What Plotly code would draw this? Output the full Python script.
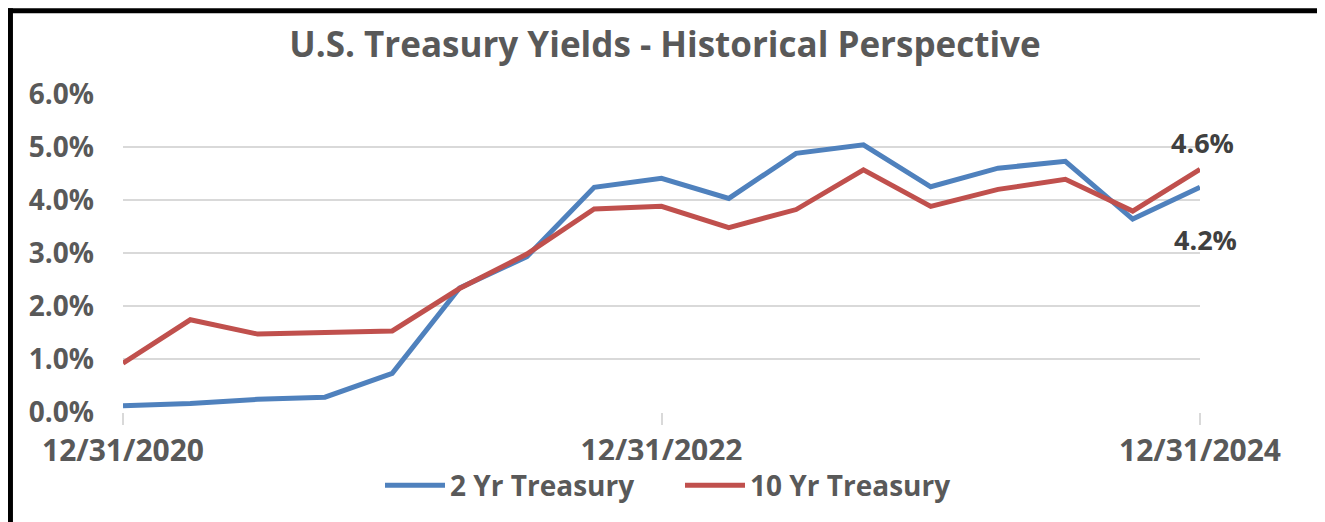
import plotly.graph_objects as go

dates = ["12/31/2020", "3/31/2021", "6/30/2021", "9/30/2021", "12/31/2021",
         "3/31/2022", "6/30/2022", "9/30/2022", "12/31/2022", "3/31/2023",
         "6/30/2023", "9/30/2023", "12/31/2023", "3/31/2024", "6/30/2024",
         "9/30/2024", "12/31/2024"]
two_yr = [0.0012, 0.0016, 0.0024, 0.0028, 0.0073, 0.0234, 0.0293, 0.0424, 0.0441,
          0.0403, 0.0488, 0.0504, 0.0425, 0.0460, 0.0473, 0.0364, 0.0424]
ten_yr = [0.0092, 0.0174, 0.0147, 0.0149, 0.0153, 0.0233, 0.0298, 0.0383, 0.0388,
          0.0348, 0.0382, 0.0457, 0.0388, 0.0420, 0.0439, 0.0379, 0.0458]
tick_dates = ["12/31/2020", "12/31/2022", "12/31/2024"]

grey = "#595959"
font = "Open Sans"

fig = go.Figure()
fig.add_trace(go.Scatter(x=dates, y=two_yr, mode="lines", name="<b>2 Yr Treasury</b>",
                         line=dict(color="#4F81BD", width=5), cliponaxis=False))
fig.add_trace(go.Scatter(x=dates, y=ten_yr, mode="lines", name="<b>10 Yr Treasury</b>",
                         line=dict(color="#C0504D", width=5), cliponaxis=False))

fig.add_annotation(x=dates[-1], y=ten_yr[-1], text="<b>4.6%</b>", showarrow=False,
                   yshift=27, xshift=2, font=dict(family=font, size=27, color="#404040"))
fig.add_annotation(x=dates[-1], y=two_yr[-1], text="<b>4.2%</b>", showarrow=False,
                   yshift=-52, xshift=5, font=dict(family=font, size=27, color="#404040"))

# frame around the chart
fig.add_shape(type="line", xref="paper", yref="paper", x0=-0.11, x1=1.12, y0=1.262, y1=1.262,
              line=dict(color="black", width=5))
fig.add_shape(type="line", xref="paper", yref="paper", x0=-0.1045, x1=-0.1045, y0=1.27, y1=-0.35,
              line=dict(color="black", width=5))
fig.add_shape(type="line", xref="paper", yref="paper", x0=1.1133, x1=1.1133, y0=1.26, y1=-0.35,
              line=dict(color="#a0a0a0", width=2))

# page body has an 8px margin, so the figure is shrunk by that much
fig.update_layout(
    width=1317, height=514,
    margin=dict(l=115, r=125, t=86, b=108),
    paper_bgcolor="white", plot_bgcolor="white",
    title=dict(text="<b>U.S. Treasury Yields - Historical Perspective</b>",
               x=(665 - 8) / 1317, xanchor="center", y=1 - 37 / 514, yanchor="middle",
               font=dict(family=font, size=35, color=grey)),
    legend=dict(orientation="h", x=(680 - 123) / 1077, xanchor="center", y=-0.231, yanchor="middle",
                font=dict(family=font, size=28, color=grey), itemwidth=60,
                entrywidth=225, entrywidthmode="pixels"),
    font=dict(family=font, color=grey),
)
fig.update_xaxes(type="category", range=[0, len(dates) - 1], tickvals=tick_dates,
                 ticktext=["<b>%s</b>" % d for d in tick_dates],
                 ticks="outside", ticklen=12, tickwidth=2, tickcolor="#d9d9d9",
                 showgrid=False, showline=False, zeroline=False,
                 tickfont=dict(family=font, size=30, color=grey))
fig.update_yaxes(range=[0, 0.06], dtick=0.01, tickformat=".1%",
                 showgrid=True, gridcolor="#d9d9d9", gridwidth=2,
                 zeroline=False, showline=False, ticklabelstandoff=28,
                 tickprefix="<b>", ticksuffix="</b>",
                 tickfont=dict(family=font, size=28, color=grey))

fig.write_html("out.html")
